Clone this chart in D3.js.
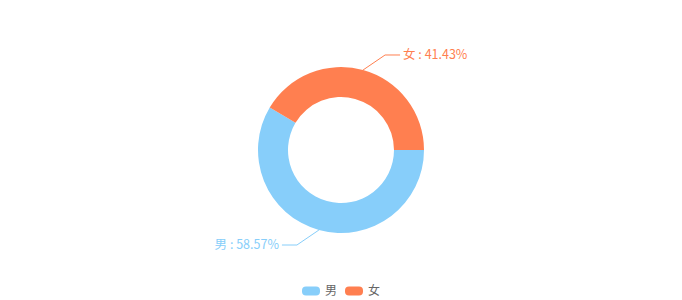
<!DOCTYPE html>
<html>
<head>
<meta charset="utf-8">
<script src="https://cdn.jsdelivr.net/npm/d3@7"></script>
<style>
  body { margin: 0; background: #fff; }
  svg { display: block; font-family: "Noto Sans CJK SC", "Noto Sans", sans-serif; }
</style>
</head>
<body>
<div id="chart"></div>
<script>
const categories = ['男', '女'];
const percents = [58.57, 41.43];
const colors = ['#87cefa', '#ff7f50'];

const width = 682;
const height = 300;
const center = { x: 341, y: 150 };
const outerR = 83;
const innerR = 53;

const svg = d3.select('#chart').append('svg')
    .attr('width', width)
    .attr('height', height);

const data = categories.map((c, i) => ({ name: c, value: percents[i], color: colors[i] }));

// echarts-like: start at 3 o'clock, clockwise
const pie = d3.pie()
    .value(d => d.value)
    .sort(null)
    .startAngle(Math.PI / 2)
    .endAngle(Math.PI / 2 + 2 * Math.PI);

const arc = d3.arc().innerRadius(innerR).outerRadius(outerR);
const arcs = pie(data);

const g = svg.append('g')
    .attr('transform', `translate(${center.x},${center.y})`);

g.selectAll('path.slice')
    .data(arcs)
  .enter().append('path')
    .attr('class', 'slice')
    .attr('d', arc)
    .attr('fill', d => d.data.color);

// Labels with guide lines
arcs.forEach(d => {
  const mid = (d.startAngle + d.endAngle) / 2;
  const sx = Math.sin(mid), sy = -Math.cos(mid);
  const right = sx >= 0;
  const down = sy >= 0;
  const p0 = [sx * outerR, sy * outerR];
  const p1 = [p0[0] + (right ? 22 : -22), p0[1] + (down ? 15 : -15)];
  const p2 = [p1[0] + (right ? 15 : -15), p1[1]];

  g.append('polyline')
      .attr('points', [p0, p1, p2].map(p => p.join(',')).join(' '))
      .attr('fill', 'none')
      .attr('stroke', d.data.color)
      .attr('stroke-width', 1);

  g.append('text')
      .attr('x', p2[0] + (right ? 3 : -3))
      .attr('y', p2[1])
      .attr('dy', '0.35em')
      .style('text-anchor', right ? 'start' : 'end')
      .style('font-size', '12.5px')
      .attr('fill', d.data.color)
      .text(`${d.data.name} : ${d.data.value.toFixed(2)}%`);
});

// Legend
const legend = svg.append('g').attr('transform', 'translate(302,291)');
let lx = 0;
data.forEach(d => {
  legend.append('rect')
      .attr('x', lx)
      .attr('y', -4.5)
      .attr('width', 18)
      .attr('height', 9)
      .attr('rx', 4)
      .attr('fill', d.color);
  legend.append('text')
      .attr('x', lx + 23)
      .attr('y', 0)
      .attr('dy', '0.35em')
      .style('font-size', '12px')
      .attr('fill', '#666')
      .text(d.name);
  lx += 43;
});
</script>
</body>
</html>
